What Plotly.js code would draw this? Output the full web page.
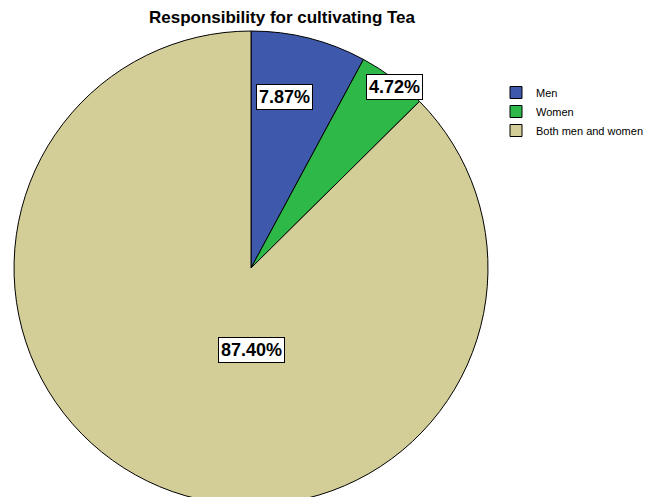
<!DOCTYPE html>
<html>
<head>
<meta charset="utf-8">
<script src="https://cdn.plot.ly/plotly-3.0.1.min.js"></script>
<style>
html,body{margin:0;padding:0;overflow:hidden;background:#fff;}
#chart{width:646px;height:510px;}
</style>
</head>
<body>
<div id="chart"></div>
<script>
const categories = ["Men", "Women", "Both men and women"];
const percentValues = [7.87, 4.72, 87.40];
const sliceColors = ["#3E58AC", "#2EB848", "#D3CE97"];
// label box positions (paper coords) for each slice
const labelX = [0.441, 0.610, 0.390];
const labelY = [0.8098, 0.8294, 0.3137];

const W = 646, H = 510;
const trace = {
  type: "pie",
  labels: categories,
  values: percentValues,
  sort: false,
  direction: "clockwise",
  rotation: 0,
  textinfo: "none",
  hoverinfo: "label+percent",
  marker: { colors: sliceColors, line: { color: "#000", width: 1 } },
  domain: { x: [0.0217, 0.7554], y: [0.0098, 0.9392] }
};

const annotations = categories.map((c, i) => ({
  xref: "paper", yref: "paper",
  x: labelX[i], y: labelY[i],
  xanchor: "center", yanchor: "middle",
  text: "<b>" + percentValues[i].toFixed(2) + "%</b>",
  showarrow: false,
  font: { family: "Liberation Sans, Arial, sans-serif", size: 18, color: "#000" },
  bgcolor: "#fff",
  bordercolor: "#000",
  borderwidth: 1,
  borderpad: 2
}));

const layout = {
  width: W, height: H,
  margin: { l: 0, r: 0, t: 0, b: 0, autoexpand: false },
  paper_bgcolor: "#fff",
  title: {
    text: "<b>Responsibility for cultivating Tea</b>",
    font: { family: "Liberation Sans, Arial, sans-serif", size: 17, color: "#000" },
    x: 282 / W, xanchor: "center",
    y: 1 - 17 / H, yanchor: "middle"
  },
  showlegend: true,
  legend: {
    x: 496 / W, y: 1 - 78 / H, xanchor: "left", yanchor: "top",
    font: { family: "Liberation Sans, Arial, sans-serif", size: 11, color: "#000" },
    bgcolor: "rgba(0,0,0,0)",
    tracegroupgap: 0,
    itemwidth: 30
  },
  annotations: annotations
};

Plotly.newPlot("chart", [trace], layout, { displayModeBar: false, staticPlot: true });
</script>
</body>
</html>
